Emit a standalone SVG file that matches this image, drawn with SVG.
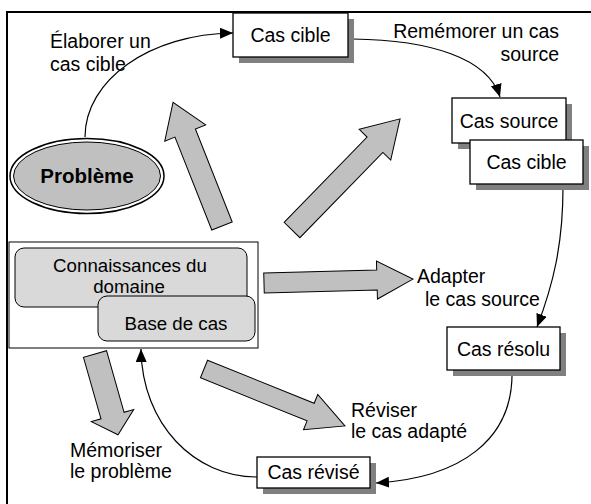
<svg xmlns="http://www.w3.org/2000/svg" width="591" height="504" viewBox="0 0 591 504">
<style>
text{font-family:"Liberation Sans",Arial,sans-serif;font-size:19.5px;fill:#000}
.c{text-anchor:middle}
.e{text-anchor:end}
.box{fill:#fff;stroke:#000;stroke-width:1.3}
.sh{fill:#808080}
.blk{fill:#c0c0c0;stroke:#000;stroke-width:1}
.rr{fill:#d9d9d9;stroke:#000;stroke-width:1}
.con{fill:none;stroke:#000;stroke-width:1.2;marker-end:url(#ah)}
</style>
<defs>
<marker id="ah" markerWidth="14" markerHeight="12" refX="13" refY="5.5" orient="auto" markerUnits="userSpaceOnUse">
<path d="M0,0 L13,5.5 L0,11 Z" fill="#000"/>
</marker>
</defs>
<rect x="0" y="0" width="591" height="504" fill="#fff"/>
<path d="M7,504 L7,12 L591,12" fill="none" stroke="#000" stroke-width="2"/>

<g id="block-arrows">
<path class="blk" transform="translate(222,226) rotate(-111.6)" d="M0,-11 H100 V-22 L133,0 L100,22 V11 H0 Z"/>
<path class="blk" transform="translate(292,230) rotate(-45.8)" d="M0,-11 H119 V-22 L155,0 L119,22 V11 H0 Z"/>
<path class="blk" transform="translate(264,283) rotate(-1.5)" d="M0,-10 H113 V-19 L149,0 L113,19 V10 H0 Z"/>
<path class="blk" transform="translate(204,369) rotate(22)" d="M0,-9.5 H115 V-19 L152,0 L115,19 V9.5 H0 Z"/>
<path class="blk" transform="translate(95,354) rotate(74.1)" d="M0,-12 H64 V-22 L84,0 L64,22 V12 H0 Z"/>
</g>

<g id="connectors">
<path class="con" d="M85,137 C85,80 150,34 233,33"/>
<path class="con" d="M353,39 C430,40 488,58 500,97"/>
<path class="con" d="M563,187 C563,245 553,285 537,327"/>
<path class="con" d="M512,370 C514,440 460,478 376,483"/>
<path class="con" d="M257,477 C195,477 142,425 141,349"/>
</g>

<g id="probleme">
<ellipse cx="87" cy="176" rx="77" ry="37.5" fill="#fff" stroke="#000" stroke-width="1.5"/>
<ellipse cx="87" cy="176" rx="73.5" ry="34" fill="#c0c0c0" stroke="#000" stroke-width="1"/>
<text x="87" y="183" class="c" style="font-weight:bold;font-size:20.5px">Problème</text>
</g>

<g id="cas-cible-1">
<rect class="sh" x="239" y="19" width="115" height="44"/>
<rect class="box" x="233" y="13" width="115" height="44"/>
<text x="290.5" y="42" class="c">Cas cible</text>
</g>

<g id="cas-source">
<rect class="sh" x="458" y="104" width="114" height="45"/>
<rect class="box" x="452" y="98" width="114" height="45"/>
<text x="509" y="128" class="c">Cas source</text>
</g>

<g id="cas-cible-2">
<rect class="sh" x="476" y="146" width="113" height="44"/>
<rect class="box" x="470" y="140" width="113" height="44"/>
<text x="526.5" y="169" class="c">Cas cible</text>
</g>

<g id="cas-resolu">
<rect class="sh" x="453" y="333" width="113" height="43"/>
<rect class="box" x="447" y="327" width="113" height="43"/>
<text x="503.5" y="355.5" class="c">Cas résolu</text>
</g>

<g id="cas-revise">
<rect class="sh" x="263" y="463" width="113" height="31"/>
<rect class="box" x="257" y="457" width="113" height="31"/>
<text x="313.5" y="479" class="c">Cas révisé</text>
</g>

<g id="connaissances">
<rect x="9" y="242" width="249" height="106" fill="#fff" stroke="#000" stroke-width="1"/>
<rect class="rr" x="15" y="248" width="232" height="59" rx="9"/>
<text x="130" y="272" class="c" style="font-size:18.7px">Connaissances du</text>
<text x="129" y="293" class="c" style="font-size:18.7px">domaine</text>
</g>

<g id="base-de-cas">
<rect class="rr" x="98" y="296" width="157" height="45" rx="9"/>
<text x="176" y="330" class="c" style="font-size:18.7px">Base de cas</text>
</g>

<g id="labels">
<text x="50" y="48">Élaborer un</text>
<text x="50" y="71">cas cible</text>
<text x="559" y="38" class="e">Remémorer un cas</text>
<text x="559" y="61" class="e">source</text>
<text x="417" y="283">Adapter</text>
<text x="425" y="306">le cas source</text>
<text x="351" y="417">Réviser</text>
<text x="351" y="438">le cas adapté</text>
<text x="70" y="457">Mémoriser</text>
<text x="70" y="478">le problème</text>
</g>
</svg>
